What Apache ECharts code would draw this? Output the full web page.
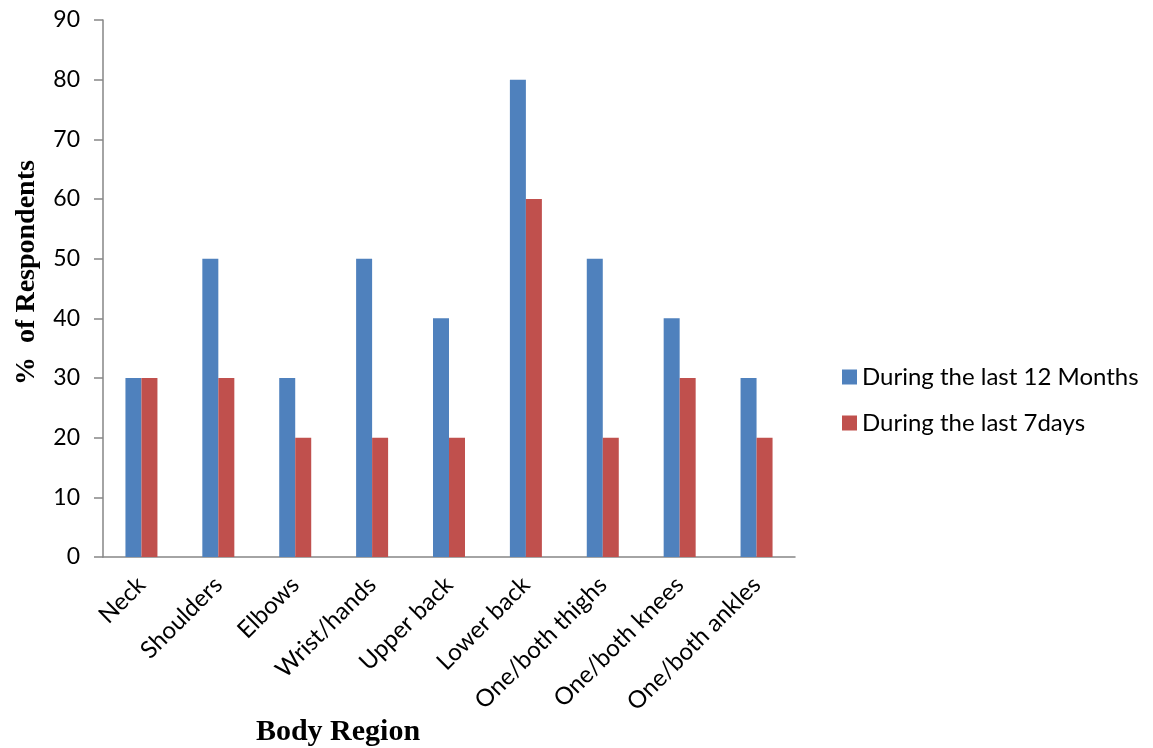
<!DOCTYPE html>
<html>
<head>
<meta charset="utf-8">
<script src="https://cdn.jsdelivr.net/npm/echarts@6/dist/echarts.min.js"></script>
<style>
  html, body { margin: 0; padding: 0; background: #fff; }
  #chart { width: 1153px; height: 748px; }
</style>
</head>
<body>
<div id="chart"></div>
<script>
// Body regions reported and share of respondents with symptoms
const categories = ['Neck', 'Shoulders', 'Elbows', 'Wrist/hands', 'Upper back', 'Lower back', 'One/both thighs', 'One/both knees', 'One/both ankles'];
const last12Months = [30, 50, 30, 50, 40, 80, 50, 40, 30];
const last7Days = [30, 30, 20, 20, 20, 60, 20, 30, 20];
const seriesNames = ['During the last 12 Months', 'During the last 7days'];

const labelFont = 'Lato, "Open Sans", "Noto Sans", sans-serif';
const titleFont = '"Liberation Serif", "DejaVu Serif", serif';
const axisGrey = '#868686';

const chart = echarts.init(document.getElementById('chart'));
chart.setOption({
  animation: false,
  backgroundColor: '#fff',
  grid: { left: 103, right: 358, top: 20, bottom: 191, containLabel: false, outerBoundsMode: 'none' },
  legend: {
    orient: 'vertical',
    left: 837,
    top: 360,
    itemWidth: 15,
    itemHeight: 15,
    itemGap: 22,
    icon: 'rect',
    textStyle: { fontFamily: labelFont, fontSize: 24, color: '#000' },
    data: seriesNames
  },
  xAxis: {
    type: 'category',
    data: categories,
    name: 'Body Region',
    nameLocation: 'middle',
    nameGap: 160,
    nameMoveOverlap: false,
    nameTextStyle: { fontFamily: titleFont, fontWeight: 'bold', fontSize: 30, color: '#000', padding: [0, 0, 0, -222] },
    axisLine: { lineStyle: { color: axisGrey, width: 1.5 } },
    axisTick: { show: false },
    axisLabel: { rotate: 45, fontFamily: labelFont, fontSize: 24, color: '#000', margin: 24 }
  },
  yAxis: {
    type: 'value',
    min: 0,
    max: 90,
    interval: 10,
    name: '%  of Respondents',
    nameLocation: 'middle',
    nameGap: 62,
    nameMoveOverlap: false,
    nameTextStyle: { fontFamily: titleFont, fontWeight: 'bold', fontSize: 28, color: '#000', padding: [0, 0, 0, 32] },
    axisLine: { show: true, lineStyle: { color: axisGrey, width: 1.5 } },
    axisTick: { show: true, length: 9, lineStyle: { color: axisGrey, width: 1.5 } },
    splitLine: { show: false },
    axisLabel: { fontFamily: labelFont, fontSize: 23, color: '#000', margin: 23 }
  },
  series: [
    { name: seriesNames[0], type: 'bar', data: last12Months, barWidth: 16, barGap: '0%', itemStyle: { color: '#4F81BD' } },
    { name: seriesNames[1], type: 'bar', data: last7Days, barWidth: 16, barGap: '0%', itemStyle: { color: '#C0504D' } }
  ]
});
</script>
</body>
</html>
